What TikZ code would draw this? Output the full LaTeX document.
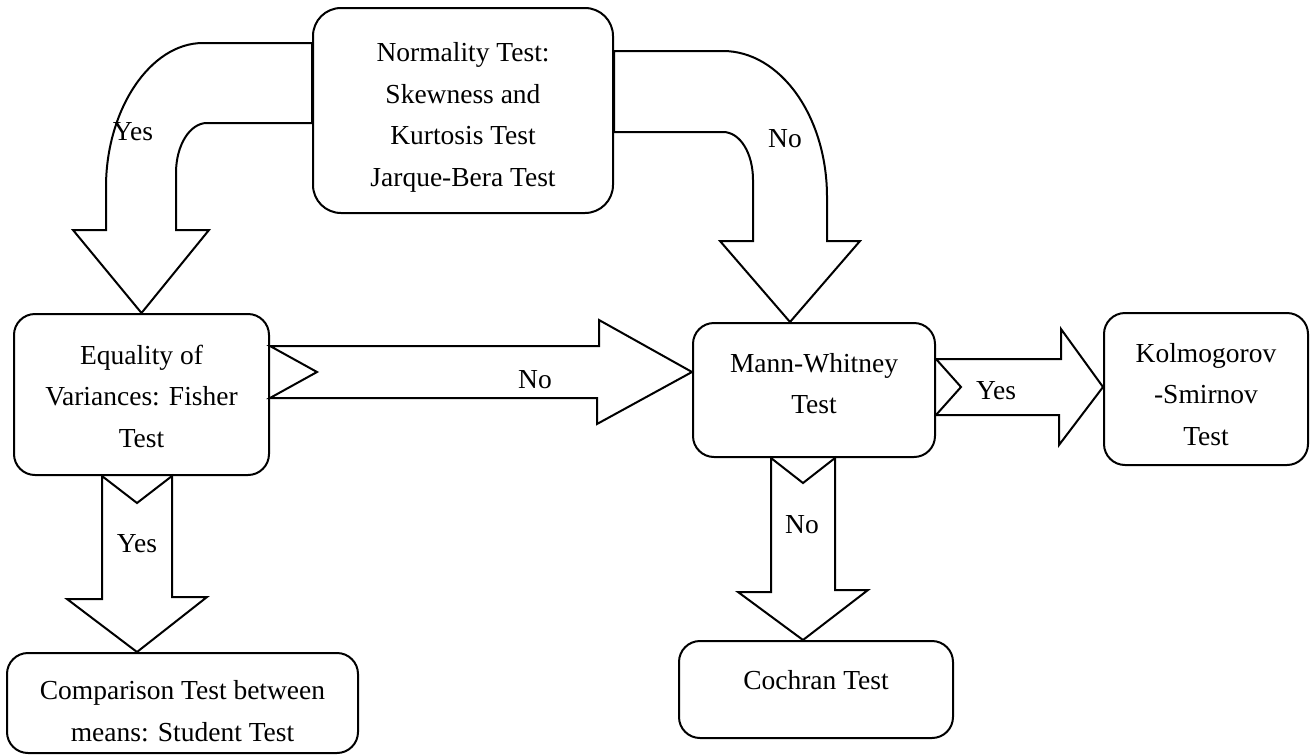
\documentclass[tikz,border=0pt]{standalone}
\usepackage{fontspec}
\setmainfont{Liberation Serif}
\usetikzlibrary{calc}

\newcommand{\boxtxt}[2]{\raisebox{#1}[\height][\depth]{\begin{tabular}{@{}c@{}}#2\end{tabular}}}

\tikzset{boite/.style = {rectangle, draw, rounded corners=10.5pt,
                         minimum width=#1},
         boite/.default=120pt,
         fleche/.style = {draw, line join=miter}
        }

\begin{document}
\begin{tikzpicture}[x=0.5pt, y=-0.5pt, line width=1pt]
\tikzstyle{every node}=[font=\fontsize{13.75}{20.75}\selectfont]
\useasboundingbox (0,0) rectangle (1310,755);
\node[boite=150pt, minimum height=102.5pt, rounded corners=14pt] at (463,110.5) (norm) {\boxtxt{-2.5pt}{Normality Test:\\Skewness and\\Kurtosis Test\\Jarque-Bera Test}};
\node[boite=127.5pt, minimum height=80.5pt] at (141.5,394.5) (fish) {\boxtxt{-1.5pt}{Equality of\\Variances: Fisher\\Test}};
\node[boite=121pt, minimum height=67pt] at (814,390) (mw) {\boxtxt{2.7pt}{Mann-Whitney\\Test}};
\node[boite=102pt, minimum height=76pt] at (1206,389) (ks) {\boxtxt{-3.3pt}{Kolmogorov\\-Smirnov\\Test}};
\node[boite=175.5pt, minimum height=50pt] at (182.5,703) (stud) {\boxtxt{-4.5pt}{Comparison Test between\\means: Student Test}};
\node[boite=137pt, minimum height=48.5pt] at (816,689.5) (coch) {\boxtxt{4pt}{Cochran Test}};

% big arrows
\coordinate (nf1) at (norm.west |- 0,43);
\coordinate (nf2) at (norm.west |- 0,123);
\draw[fleche] (nf1) -- (203,43) .. controls (150,43) and (106,110) .. (106,187) -- (106,230) -- (73,230) -- (fish.north) -- (209,230) -- (176,230) -- (176,173) .. controls (176,145) and (190,123) .. (207,123) -- (nf2) -- cycle;
\coordinate (nm1) at (norm.east |- 0,51);
\coordinate (nm2) at (norm.east |- 0,132);
\coordinate (nm3) at (mw.north -| 790,0);
\draw[fleche] (nm1) -- (723,51) .. controls (780,51) and (827,116) .. (827,197) -- (827,241) -- (860,241) -- (nm3) -- (720,241) -- (753,241) -- (753,180) .. controls (753,153) and (740,132) .. (723,132) -- (nm2) -- cycle;
\coordinate (fm) at (fish.east |- 0,372);
\draw[fleche] ($(fm)+(0,-26)$) -- ++(329,0) -- ++(0,-26) -- (mw.west |- fm) -- ++(-95,52) -- ++(0,-26) -- ($(fm)+(0,26)$) -- ($(fm)+(47,0)$) -- cycle;
\coordinate (mk) at (mw.east |- 0,387);
\draw[fleche] ($(mk)+(0,-28)$) -- ++(125,0) -- ++(0,-30) -- (ks.west |- mk) -- ++(-44,58) -- ++(0,-30) -- ($(mk)+(0,28)$) -- ($(mk)+(25,0)$) -- cycle;
\coordinate (fs) at (fish.south -| 137,0);
\draw[fleche] ($(fs)+(-35,0)$) -- ++(0,123) -- ++(-35,0) -- (fs |- stud.north) -- ++(70,-55) -- ++(-35,0) -- ($(fs)+(35,0)$) -- ($(fs)+(0,27)$) -- cycle;
\coordinate (mc) at (mw.south -| 803,0);
\draw[fleche] ($(mc)+(-32,0)$) -- ++(0,134) -- ++(-33,0) -- (mc |- coch.north) -- ++(65,-50) -- ++(-33,0) -- ($(mc)+(32,0)$) -- ($(mc)+(0,25)$) -- cycle;

% labels
\node (oui1) at (133,132) {Yes};
\node (non1) at (785,139) {No};
\node (non2) at (535,380) {No};
\node (oui2) at (996,391) {Yes};
\node (oui3) at (137,544) {Yes};
\node (non3) at (802,525) {No};
\end{tikzpicture}
\end{document}
